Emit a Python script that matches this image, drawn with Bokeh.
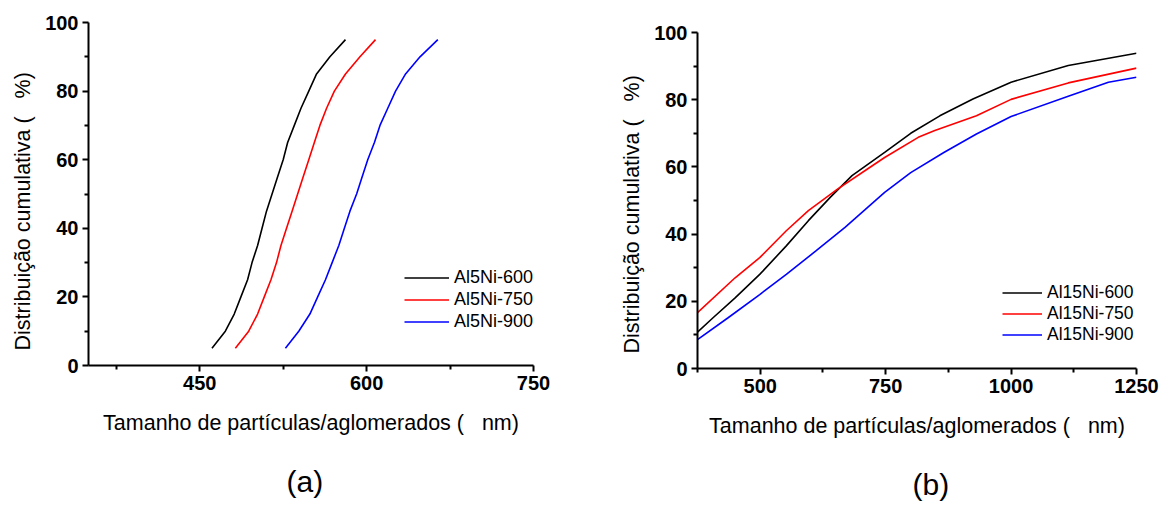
from bokeh.plotting import figure
from bokeh.layouts import row, column
from bokeh.models import Range1d, FixedTicker, Legend, LegendItem, Title
from bokeh.embed import file_html
from bokeh.resources import INLINE

# ---- data: panel (a) ----
a_pct = [5, 10, 15, 20, 25, 30, 35, 40, 45, 50, 55, 60, 65, 70, 75, 80, 85, 90, 95]
a600 = [461, 473, 481, 487, 493, 497, 502, 506, 510, 515, 520, 525, 529, 535, 541, 548, 555, 567, 581]
a750 = [482, 494, 502, 508, 514, 519, 523, 528, 533, 538, 543, 548, 553, 558, 564, 571, 581, 594, 608]
a900 = [527, 539, 549, 556, 563, 569, 575, 580, 585, 591, 596, 601, 607, 612, 619, 626, 635, 648, 664]
a_labels = ["Al5Ni-600", "Al5Ni-750", "Al5Ni-900"]

# ---- data: panel (b) ----
b600_x = [375, 406, 450, 499, 552, 596, 640, 683, 748, 800, 858, 924, 1000, 1114, 1250]
b600_y = [10.8, 15.1, 21.0, 28.0, 36.5, 44.0, 51.0, 57.4, 64.3, 70.0, 75.2, 80.2, 85.2, 90.2, 93.8]
b750_x = [375, 450, 499, 552, 596, 654, 713, 748, 815, 848, 931, 1000, 1114, 1250]
b750_y = [16.6, 27.0, 33.0, 41.0, 47.0, 53.4, 59.3, 62.8, 68.8, 70.8, 75.2, 80.1, 85.0, 89.4]
b900_x = [375, 436, 499, 552, 611, 669, 748, 800, 866, 931, 1000, 1114, 1194, 1250]
b900_y = [8.6, 15.1, 22.0, 28.0, 35.0, 42.0, 52.4, 58.3, 64.3, 69.8, 75.0, 81.0, 85.2, 86.7]
b_labels = ["Al15Ni-600", "Al15Ni-750", "Al15Ni-900"]

colors = ["#000000", "#ff0000", "#0000ff"]
y_ticks = [0, 20, 40, 60, 80, 100]
y_minor = [10, 30, 50, 70, 90]

FONT = "Liberation Sans"
SP = "\u00a0\u00a0\u00a0"
xtitle = "Tamanho de partículas/aglomerados (" + SP + "nm)"
ytitle = "Distribuição cumulativa (" + SP + "%)"


def style(p, xticks, xminor):
    p.xaxis.ticker = FixedTicker(ticks=xticks, minor_ticks=xminor)
    p.yaxis.ticker = FixedTicker(ticks=y_ticks, minor_ticks=y_minor)
    for ax in [p.xaxis[0], p.yaxis[0]]:
        ax.axis_line_width = 2
        ax.axis_line_color = "black"
        ax.major_tick_line_width = 2
        ax.minor_tick_line_width = 2
        ax.major_tick_in = 0
        ax.major_tick_out = 6
        ax.minor_tick_in = 0
        ax.minor_tick_out = 4
        ax.major_label_text_font = FONT
        ax.major_label_text_font_style = "bold"
        ax.major_label_text_font_size = "20px"
        ax.major_label_text_color = "black"
        ax.axis_label_text_font = FONT
        ax.axis_label_text_font_style = "normal"
        ax.axis_label_text_font_size = "21.5px"
        ax.axis_label_text_color = "black"
    p.xgrid.visible = False
    p.ygrid.visible = False
    p.outline_line_color = None


def make(width, height, mb, xr, xticks, xminor, series, labels, legend_loc, spacing, glyph_w,
         leg_font, tag, tag_offset):
    p = figure(width=width, height=height, output_backend="svg", toolbar_location=None,
               title=None,
               x_range=Range1d(*xr), y_range=Range1d(0, 100),
               min_border_left=mb[0], min_border_right=mb[1],
               min_border_top=mb[2], min_border_bottom=mb[3])
    style(p, xticks, xminor)
    p.xaxis.axis_label = xtitle
    p.xaxis.axis_label_standoff = 18
    p.xaxis.major_label_standoff = 4
    p.yaxis.major_label_standoff = 4
    items = []
    for (xs, ys), c, lab in zip(series, colors, labels):
        r = p.line(xs, ys, line_color=c, line_width=1.6)
        items.append(LegendItem(label=lab, renderers=[r]))
    leg = Legend(items=items, location=legend_loc, orientation="vertical",
                 label_text_font=FONT, label_text_font_size=leg_font,
                 label_text_color="black", glyph_width=glyph_w, glyph_height=21,
                 label_height=21, spacing=spacing, padding=0, margin=0,
                 label_standoff=5, border_line_color=None,
                 background_fill_alpha=0)
    p.add_layout(leg)
    yt = Title(text=ytitle, align="left", offset=15, text_font=FONT,
               text_font_size="21.5px", text_font_style="normal", text_color="black",
               standoff=16)
    p.add_layout(yt, "left")
    t = Title(text=tag, align="left", offset=tag_offset, text_font=FONT,
              text_font_size="30px", text_font_style="normal", text_color="black",
              standoff=50)
    p.add_layout(t, "below")
    return p


pa = make(590, 526, (85, 57, 22, 161), (350, 750), [450, 600, 750], [375, 525, 675],
          [(a600, a_pct), (a750, a_pct), (a900, a_pct)], a_labels, (316, 33), 1, 45,
          "18px", "(a)", 198)
pb = make(571, 526, (107, 25, 32, 158), (375, 1250), [500, 750, 1000, 1250], [375, 625, 875, 1125],
          [(b600_x, b600_y), (b750_x, b750_y), (b900_x, b900_y)], b_labels, (305, 23), 0, 40,
          "17.5px", "(b)", 215)

layout = row(pa, column(pb))
open("out.html", "w").write(file_html(layout, INLINE))
